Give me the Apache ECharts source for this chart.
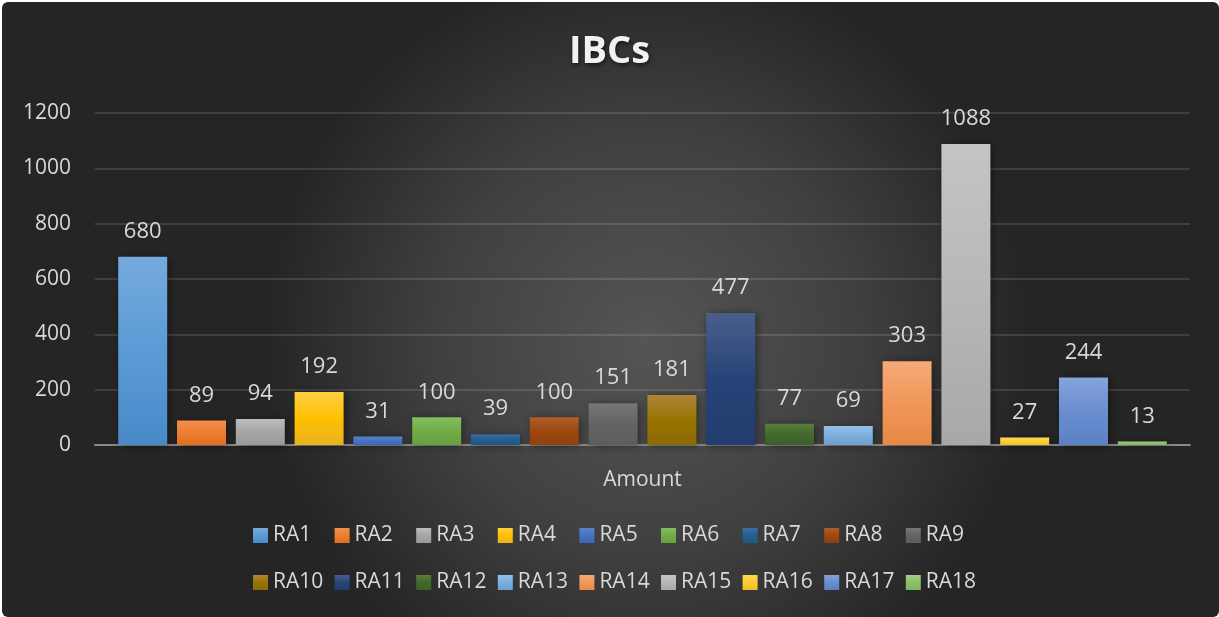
<!DOCTYPE html>
<html>
<head>
<meta charset="utf-8">
<script src="https://cdn.jsdelivr.net/npm/echarts@6/dist/echarts.min.js"></script>
<style>
  html, body { margin: 0; padding: 0; background: #ffffff; }
  #chart { width: 1219px; height: 617px; }
</style>
</head>
<body>
<div id="chart"></div>
<script>
const categories = ['Amount'];
const seriesNames = ['RA1','RA2','RA3','RA4','RA5','RA6','RA7','RA8','RA9','RA10','RA11','RA12','RA13','RA14','RA15','RA16','RA17','RA18'];
const seriesValues = [680, 89, 94, 192, 31, 100, 39, 100, 151, 181, 477, 77, 69, 303, 1088, 27, 244, 13];
const yTicks = [0, 200, 400, 600, 800, 1000, 1200];

const colorsTop = ['#74aadd','#f28f4f','#bdbdbd','#ffcf45','#5b83cb','#84bd5d','#3a6ea3','#b05d2a','#777777','#ac8638','#4a5e8c','#587d40','#96c0e6','#f5aa77','#c4c4c4','#ffd84f','#86a3da','#a1cf85'];
const colorsMid = ['#5b9bd5','#ed7d31','#a5a5a5','#ffc000','#4472c4','#70ad47','#255e91','#9e480e','#636363','#997300','#264478','#43682b','#7cafdd','#f1975a','#b7b7b7','#ffcd33','#698ed0','#8cc168'];
const colorsBot = ['#4889c9','#e0701f','#9a9a9a','#e8b420','#3d66b5','#66a03f','#215583','#8f410d','#5d5d5d','#8c6a05','#223d6e','#3d5f27','#6d9fcf','#e68945','#a8a8a8','#eebf22','#5c80c4','#80b45d'];

const chart = echarts.init(document.getElementById('chart'), null, { renderer: 'canvas' });

const series = seriesNames.map((name, i) => ({
  name: name,
  type: 'bar',
  data: [seriesValues[i]],
  barWidth: 49,
  barGap: '20%',
  itemStyle: {
    color: new echarts.graphic.LinearGradient(0, 0, 0, 1, [
      { offset: 0, color: colorsTop[i] },
      { offset: 0.5, color: colorsMid[i] },
      { offset: 1, color: colorsBot[i] }
    ]),
    shadowBlur: 8,
    shadowColor: 'rgba(0,0,0,0.45)',
    shadowOffsetX: 2,
    shadowOffsetY: 1
  },
  label: {
    show: true,
    position: 'top',
    distance: 14,
    color: '#d9d9d9',
    fontFamily: 'Open Sans',
    fontSize: 22
  }
}));

// one legend component per item so that items sit on a fixed pitch, as in the reference
const legends = seriesNames.map((name, i) => ({
  data: [name],
  top: i < 9 ? 525 : 572,
  left: 253 + (i % 9) * 81.6,
  itemWidth: 15,
  itemHeight: 15,
  icon: 'rect',
  padding: 0,
  textStyle: {
    color: '#d9d9d9',
    fontFamily: 'Open Sans',
    fontSize: 21
  }
}));

chart.setOption({
  backgroundColor: 'transparent',
  animation: false,
  graphic: [{
    type: 'rect',
    z: -10,
    silent: true,
    shape: { x: 2, y: 2, width: 1217, height: 615, r: 6 },
    style: {
      fill: new echarts.graphic.RadialGradient(0.53, 0.55, 0.62, [
        { offset: 0, color: '#555555' },
        { offset: 0.55, color: '#404040' },
        { offset: 1, color: '#252525' }
      ])
    }
  }],
  title: {
    text: 'IBCs',
    left: 'center',
    top: 28,
    textStyle: {
      color: '#f2f2f2',
      fontFamily: 'Open Sans',
      fontWeight: 'bold',
      fontSize: 38,
      textShadowColor: 'rgba(0,0,0,0.6)',
      textShadowBlur: 4,
      textShadowOffsetX: 1,
      textShadowOffsetY: 2
    }
  },
  legend: legends,
  grid: {
    left: 95,
    right: 29,
    top: 113,
    bottom: 172,
    containLabel: false
  },
  xAxis: {
    type: 'category',
    data: categories,
    axisLine: { show: true, lineStyle: { color: '#8a8a8a', width: 2 } },
    axisTick: { show: false },
    axisLabel: {
      color: '#d9d9d9',
      fontFamily: 'Open Sans',
      fontSize: 21,
      margin: 25
    }
  },
  yAxis: {
    type: 'value',
    min: yTicks[0],
    max: yTicks[yTicks.length - 1],
    interval: 200,
    axisLine: { show: false },
    axisTick: { show: false },
    splitLine: { lineStyle: { color: 'rgba(255,255,255,0.12)', width: 2 } },
    axisLabel: {
      color: '#d9d9d9',
      fontFamily: 'Open Sans',
      fontSize: 21,
      margin: 24,
      formatter: (v) => String(v)
    }
  },
  series: series
});
</script>
</body>
</html>
